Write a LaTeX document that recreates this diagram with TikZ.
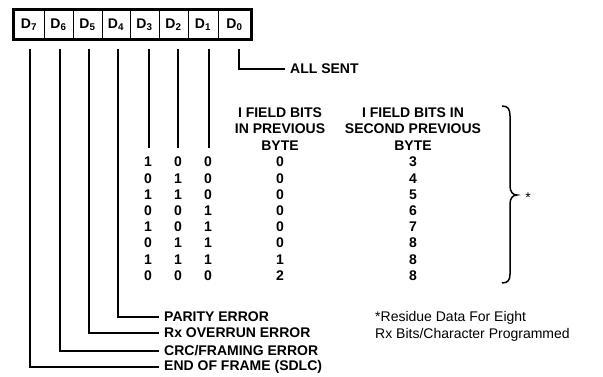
\documentclass[tikz,border=0pt]{standalone}
\usepackage{fontspec}
\setmainfont{Liberation Sans}
\colorlet{ink}{black}
\def\bitfont{\fontsize{14}{16.5}\selectfont\bfseries}
\def\notefont{\fontsize{14}{17}\selectfont}
\tikzset{cell/.style={draw=ink, line width=0.8pt, minimum height=29pt, inner sep=0pt, font=\bitfont},
	frame/.style={draw=ink, line width=2.6pt},
	wire/.style={draw=ink, line width=1.6pt},
	tag/.style={anchor=west, inner sep=5pt, font=\bitfont},
	entry/.style={inner sep=0pt, font=\bitfont},
	head/.style={align=center, inner sep=0pt, font=\bitfont}}

\begin{document}
\begin{tikzpicture}[x=1pt,y=-1pt]
	\useasboundingbox (0,0) rectangle (603,377);
	% register
	\foreach \n/\l/\r in {7/14/44,6/44/73,5/73/102,4/102/130,3/130/159,2/159/188,1/188/218,0/218/251}
		\node[cell, minimum width=\r-\l] (d\n) at ({(\l+\r)/2},24.5) {D\textsubscript{\n}};
	\draw[frame] (d7.north west) rectangle (d0.south east);
	\foreach \n/\x in {7/30,6/60,5/89,4/118,3/149,2/178,1/209,0/239}
		\coordinate (t\n) at (\x,49);
	
	% status labels
	\node[tag] (sent) at (285,69) {ALL SENT};
	\node[tag] (parity) at (159,317) {PARITY ERROR};
	\node[tag] (overrun) at (159,333) {Rx OVERRUN ERROR};
	\node[tag] (crc) at (159,351) {CRC/FRAMING ERROR};
	\node[tag] (eof) at (159,367) {END OF FRAME (SDLC)};
	\draw[wire] (t0) |- (sent.west);
	\draw[wire] (t4) |- (parity.west);
	\draw[wire] (t5) |- (overrun.west);
	\draw[wire] (t6) |- (crc.west);
	\draw[wire] (t7) |- (eof.west);
	
	% residue table
	\node[head] (h1) at (280,129) {I FIELD BITS\\IN PREVIOUS\\BYTE};
	\node[head] (h2) at (413,129) {I FIELD BITS IN\\SECOND PREVIOUS\\BYTE};
	\foreach \a/\b/\c/\p/\q [count=\i] in {1/0/0/0/3,0/1/0/0/4,1/1/0/0/5,0/0/1/0/6,1/0/1/0/7,0/1/1/0/8,1/1/1/1/8,0/0/0/2/8} {
		\node[entry] (a\i) at (148,{145.8+16.2*\i}) {\a};
		\node[entry] (b\i) at (178,{145.8+16.2*\i}) {\b};
		\node[entry] (c\i) at (208,{145.8+16.2*\i}) {\c};
		\node[entry] (p\i) at (280,{145.8+16.2*\i}) {\p};
		\node[entry] (q\i) at (413,{145.8+16.2*\i}) {\q};
	}
	\draw[wire, shorten >=9pt] (t3) -- (t3 |- a1.north);
	\draw[wire, shorten >=9pt] (t2) -- (t2 |- b1.north);
	\draw[wire, shorten >=9pt] (t1) -- (t1 |- c1.north);
	
	% brace
	\draw[wire, line width=1.5pt] (502,106) .. controls (508,106) and (510,109) .. (510,116) -- (510,186)
		.. controls (510,192) and (513,195) .. (517,195) .. controls (513,195) and (510,198) .. (510,204)
		-- (510,274) .. controls (510,280) and (508,283) .. (502,283);
	\node[inner sep=0pt, font=\notefont] (star) at (528,198) {*};
	\node[anchor=west, align=left, inner sep=0pt, font=\notefont] (note) at (375,326) {*Residue Data For Eight\\Rx Bits/Character Programmed};
\end{tikzpicture}
\end{document}
